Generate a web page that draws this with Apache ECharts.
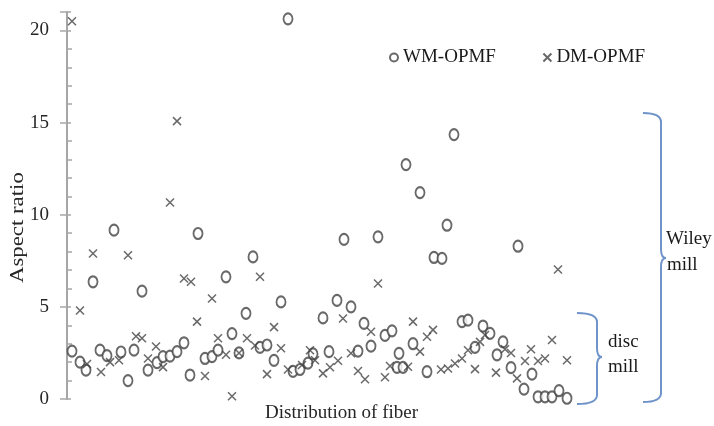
<!DOCTYPE html>
<html>
<head>
<meta charset="utf-8">
<script src="https://cdn.jsdelivr.net/npm/echarts@6/dist/echarts.min.js"></script>
<style>
  html, body { margin: 0; padding: 0; background: #fff; }
  #main { width: 714px; height: 426px; }
</style>
</head>
<body>
<div id="main"></div>
<script>
// position of each fiber along the distribution, and its aspect ratio
var wmX = [5, 13, 19, 26, 33, 40, 47, 54, 61, 67, 75, 81, 90, 96, 103, 110, 117, 123, 131, 138,
  145, 151, 159, 165, 172, 179, 186, 193, 200, 207, 214, 221, 226, 233, 241, 246, 256, 262, 270, 277,
  284, 291, 297, 304, 311, 318, 325, 330, 332, 336, 339, 346, 353, 360, 367, 375, 380, 387, 395, 401,
  408, 416, 423, 430, 436, 444, 451, 457, 465, 471, 478, 485, 492, 500]
var wmY = [2.6, 2.0, 1.57, 6.36, 2.65, 2.35, 9.16, 2.55, 1.0, 2.65, 5.85, 1.57, 1.97, 2.3, 2.33, 2.57, 3.05, 1.3, 8.98, 2.2,
  2.3, 2.65, 6.63, 3.55, 2.5, 4.65, 7.71, 2.8, 2.93, 2.1, 5.27, 20.63, 1.5, 1.6, 1.95, 2.45, 4.4, 2.57, 5.35, 8.66,
  5.0, 2.6, 4.1, 2.87, 8.8, 3.45, 3.7, 1.72, 2.48, 1.72, 12.72, 3.0, 11.2, 1.48, 7.68, 7.63, 9.43, 14.35, 4.2, 4.28,
  2.8, 3.96, 3.56, 2.4, 3.1, 1.7, 8.29, 0.54, 1.35, 0.12, 0.12, 0.12, 0.45, 0.04]

var dmX = [5, 13, 20, 26, 34, 43, 52, 61, 69, 75, 81, 89, 96, 103, 110, 117, 124, 130, 138, 145,
  151, 159, 165, 172, 180, 188, 193, 200, 207, 214, 221, 235, 243, 248, 256, 263, 271, 276, 284, 291,
  298, 304, 311, 318, 323, 341, 346, 353, 360, 366, 374, 381, 388, 395, 401, 408, 413, 418, 429, 438,
  444, 450, 458, 464, 471, 478, 485, 491, 500]
var dmY = [20.5, 4.8, 1.9, 7.9, 1.46, 2.0, 2.1, 7.8, 3.4, 3.3, 2.2, 2.85, 1.73, 10.66, 15.08, 6.54, 6.36, 4.2, 1.25, 5.45,
  3.3, 2.4, 0.15, 2.5, 3.3, 2.9, 6.63, 1.35, 3.9, 2.75, 1.6, 1.85, 2.65, 2.1, 1.39, 1.72, 2.08, 4.37, 2.48, 1.52,
  1.07, 3.65, 6.27, 1.18, 1.79, 1.75, 4.2, 2.57, 3.38, 3.75, 1.6, 1.66, 1.93, 2.2, 2.65, 1.62, 3.1, 3.47, 1.43, 2.7,
  2.5, 1.12, 2.06, 2.7, 2.06, 2.2, 3.2, 7.03, 2.1]

var yTicks = [0, 5, 10, 15, 20]

function pairs(xs, ys) {
  var res = []
  for (var i = 0; i < xs.length; i++) res.push([xs[i], ys[i]])
  return res
}

var serif = 'Liberation Serif'
var braceColor = '#6f94c9'
var crossPath = 'path://M0,0L10,10M10,0L0,10'

// curly bracket drawn from simple segments (x0 = open end, x1 = spine)
function brace(x0, x1, yTop, yMid, yBot) {
  var st = { stroke: braceColor, lineWidth: 2, fill: 'none' }
  var r = 9, tip = 5
  return [
    { type: 'bezierCurve', shape: { x1: x0, y1: yTop, x2: x1, y2: yTop + r, cpx1: x1, cpy1: yTop }, style: st },
    { type: 'line', shape: { x1: x1, y1: yTop + r, x2: x1, y2: yMid - r }, style: st },
    { type: 'bezierCurve', shape: { x1: x1, y1: yMid - r, x2: x1 + tip, y2: yMid, cpx1: x1, cpy1: yMid }, style: st },
    { type: 'bezierCurve', shape: { x1: x1 + tip, y1: yMid, x2: x1, y2: yMid + r, cpx1: x1, cpy1: yMid }, style: st },
    { type: 'line', shape: { x1: x1, y1: yMid + r, x2: x1, y2: yBot - r }, style: st },
    { type: 'bezierCurve', shape: { x1: x1, y1: yBot - r, x2: x0, y2: yBot, cpx1: x1, cpy1: yBot }, style: st }
  ]
}

function label(txt, x, y) {
  return { type: 'text', x: x, y: y, style: { text: txt, font: '19px ' + serif, fill: '#1a1a1a' } }
}

var myChart = echarts.init(document.getElementById('main'))

var option = {
  animation: false,
  grid: { left: 67, right: 127, top: 12, bottom: 27 },
  legend: {
    left: 384,
    top: 43,
    itemWidth: 8,
    itemHeight: 8,
    itemGap: 45,
    textStyle: { fontFamily: serif, fontSize: 19, color: '#1a1a1a' },
    data: ['WM-OPMF', 'DM-OPMF']
  },
  xAxis: {
    type: 'value',
    min: 0,
    max: 520,
    axisLine: { show: false },
    axisTick: { show: false },
    axisLabel: { show: false },
    splitLine: { show: false }
  },
  yAxis: [
    {
      type: 'value',
      min: 0,
      max: 21,
      interval: 5,
      axisLine: { show: true, lineStyle: { color: '#a6a6a6', width: 2 } },
      axisTick: { show: true, length: 7, lineStyle: { color: '#a6a6a6', width: 1.5 } },
      axisLabel: {
        margin: 18,
        fontFamily: serif,
        fontSize: 19,
        color: '#262626',
        formatter: function (v) { return yTicks.indexOf(v) >= 0 ? String(v) : '' }
      },
      splitLine: { show: false }
    },
    {
      type: 'value',
      position: 'left',
      min: 0,
      max: 21,
      interval: 5,
      axisLine: { show: false },
      axisTick: { show: true, inside: true, length: 4, lineStyle: { color: '#a6a6a6', width: 1.5 } },
      minorTick: { show: true, splitNumber: 5, length: 5, lineStyle: { color: '#a6a6a6', width: 1.5 } },
      axisLabel: { show: false },
      splitLine: { show: false }
    }
  ],
  series: [
    {
      name: 'WM-OPMF',
      type: 'scatter',
      symbol: 'emptyCircle',
      symbolSize: [9, 11],
      itemStyle: { color: '#444', borderWidth: 1.7 },
      data: pairs(wmX, wmY)
    },
    {
      name: 'DM-OPMF',
      type: 'scatter',
      symbol: crossPath,
      symbolSize: 8,
      itemStyle: { color: 'none', borderColor: '#444', borderWidth: 1.5 },
      data: pairs(dmX, dmY)
    }
  ],
  graphic: [
    {
      // the source picture is stretched vertically, so the rotated title is longer
      type: 'text', x: 9, y: 283, rotation: Math.PI / 2, scaleX: 1.2,
      style: { text: 'Aspect ratio', font: '19px ' + serif, fill: '#262626' }
    },
    { type: 'text', x: 265, y: 404, style: { text: 'Distribution of fiber', font: '19px ' + serif, fill: '#262626' } },
    label('Wiley', 666, 230),
    label('mill', 667, 256),
    label('disc', 608, 333),
    label('mill', 608, 358)
  ].concat(brace(643, 661, 113, 258, 402)).concat(brace(577, 597, 313, 357, 404))
}

myChart.setOption(option)
</script>
</body>
</html>
